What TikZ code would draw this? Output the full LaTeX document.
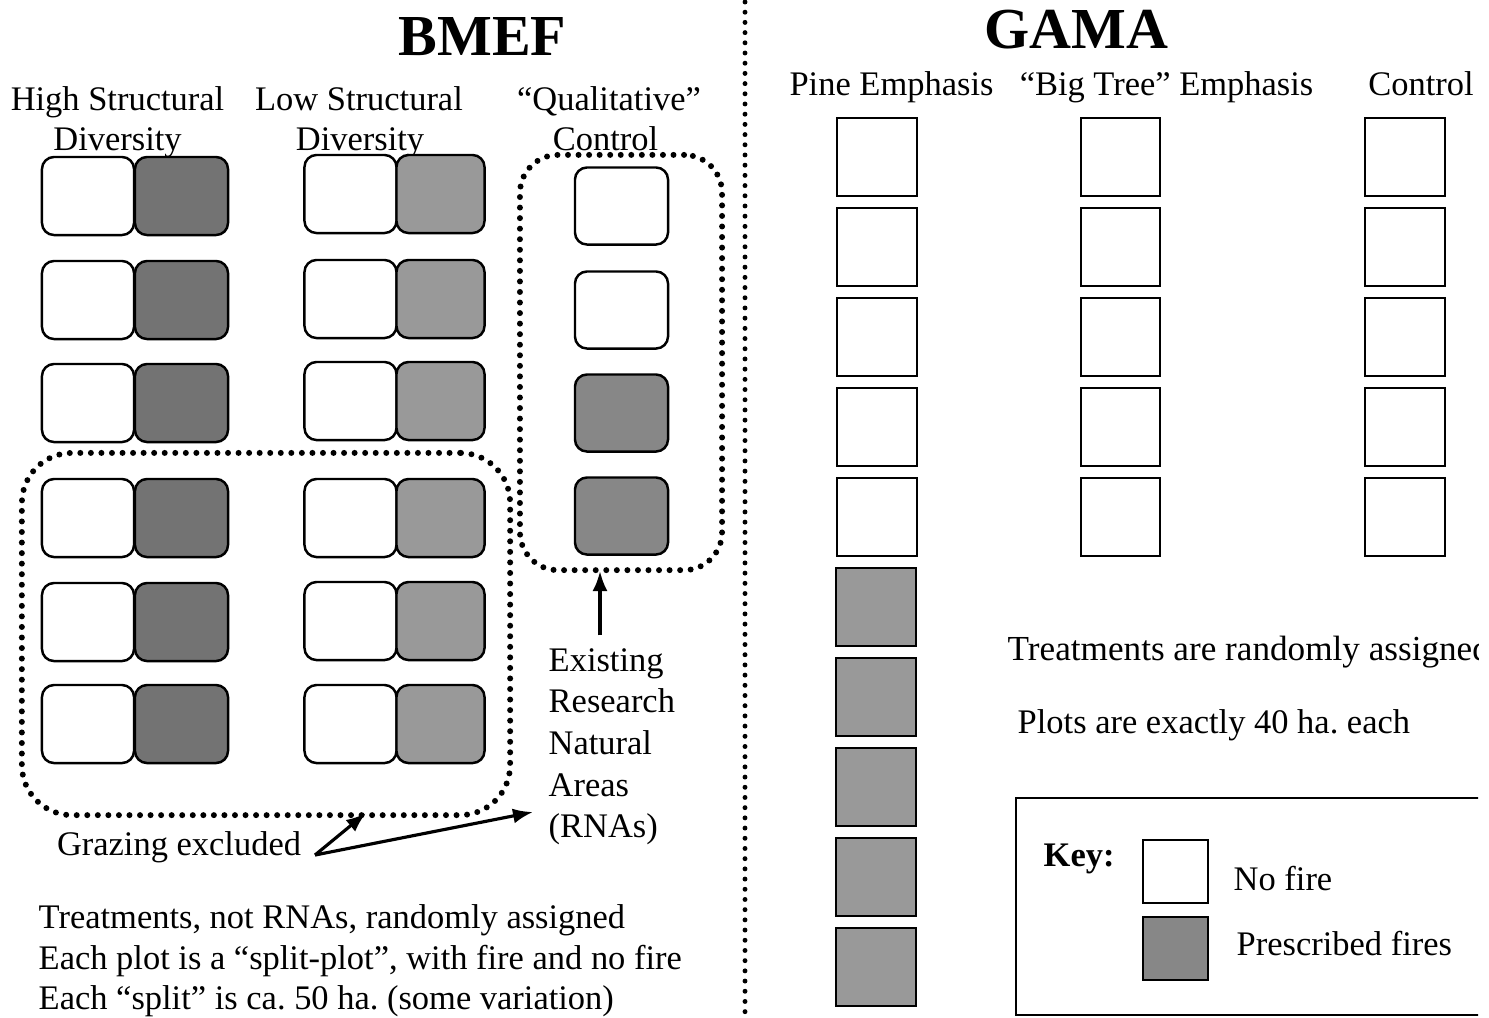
\documentclass[tikz,border=0pt]{standalone}
\usepackage{fontspec}
\setmainfont{Liberation Serif}
\usetikzlibrary{arrows.meta}
\frenchspacing
\tikzset{
  txt/.style={font=\fontsize{9.8pt}{11.8pt}\selectfont, inner sep=0pt},
  ttl/.style={font=\fontsize{16.5pt}{18pt}\selectfont\bfseries, inner sep=0pt},
  plotbox/.style={draw, line width=0.7pt, rounded corners=0.12cm, minimum width=0.92cm, minimum height=0.78cm, inner sep=0pt},
  nofire/.style={plotbox, fill=white},
  fireH/.style={plotbox, fill=black!55},
  fireL/.style={plotbox, fill=black!40, minimum width=0.88cm},
  fireC/.style={plotbox, fill=black!47},
  sqbox/.style={draw, line width=0.7pt, minimum width=0.8cm, minimum height=0.78cm, inner sep=0pt, fill=white},
  sqfire/.style={sqbox, fill=black!40},
  dotframe/.style={draw, line width=1.7pt, dash pattern=on 0pt off 3pt, line cap=round, inner sep=0pt},
  divider/.style={line width=1.4pt, dash pattern=on 0pt off 2.9pt, line cap=round},
  arr/.style={-{Latex[length=0.2cm,width=0.15cm]}, line width=0.9pt},
}
\begin{document}
\begin{tikzpicture}[x=0.01cm, y=-0.01cm]
\useasboundingbox (0,0) rectangle (1489,1017);
\begin{scope}
\clip (0,0) rectangle (1478,1017);

% ---------- BMEF ----------
\node[ttl, anchor=base] (bmef) at (482.5,55) {BMEF};
\node[txt, anchor=base] (h1a) at (117.5,110) {High Structural};
\node[txt, anchor=base] (h1b) at (117.5,150) {Diversity};
\node[txt, anchor=base] (h2a) at (359,110) {Low Structural};
\node[txt, anchor=base] (h2b) at (360,150) {Diversity};
\node[txt, anchor=base] (h3a) at (609,110) {“Qualitative”};
\node[txt, anchor=base] (h3b) at (605.5,150) {Control};

\foreach \y [count=\i] in {196,300,403,518,622,724} {
  \node[nofire] (hw\i) at (88,\y) {};
  \node[fireH, minimum width=0.93cm] (hg\i) at (181.5,\y) {};
}
\foreach \y [count=\i] in {194,299,401,518,621,724} {
  \node[nofire] (lw\i) at (350.5,\y) {};
  \node[fireL] (lg\i) at (440.5,\y) {};
}
\foreach \y/\s [count=\i] in {206/nofire,310/nofire,413/fireC,516/fireC} {
  \node[\s, minimum width=0.93cm, minimum height=0.77cm] (c\i) at (621.5,\y) {};
}

\node[dotframe, rounded corners=0.38cm, minimum width=2.02cm, minimum height=4.15cm] (rnabox) at (621,362.5) {};
\node[dotframe, rounded corners=0.5cm, minimum width=4.88cm, minimum height=3.62cm] (grazebox) at (266,634) {};

\node[txt, anchor=base west] (e1) at (548,671) {Existing};
\node[txt, anchor=base west] (e2) at (548,712) {Research};
\node[txt, anchor=base west] (e3) at (548,754) {Natural};
\node[txt, anchor=base west] (e4) at (548,796) {Areas};
\node[txt, anchor=base west] (e5) at (548,837) {(RNAs)};

\coordinate (rnatip) at (600,571);
\draw[arr] ([yshift=0.12cm]e1.north -| rnatip) -- (rnatip);

\node[txt, anchor=base] (graz) at (179,855) {Grazing excluded};
\coordinate (gtail) at (315,855);
\coordinate (gtip1) at (366,813);
\coordinate (gtip2) at (533,812);
\draw[arr] (gtail) -- (gtip1);
\draw[arr] (gtail) -- (gtip2);

\node[txt, anchor=base west] (b1) at (38,928) {Treatments, not RNAs, randomly assigned};
\node[txt, anchor=base west] (b2) at (38,969) {Each plot is a “split-plot”, with fire and no fire};
\node[txt, anchor=base west] (b3) at (38,1009) {Each “split” is ca. 50 ha. (some variation)};

% ---------- divider ----------
\coordinate (dtop) at (745,2);
\coordinate (dbot) at (745,1017);
\draw[divider] (dtop) -- (dbot);

% ---------- GAMA ----------
\node[ttl, anchor=base] (gama) at (1076.5,48) {GAMA};
\node[txt, anchor=base] (g1) at (891.5,95) {Pine Emphasis};
\node[txt, anchor=base] (g2) at (1166.5,95) {“Big Tree” Emphasis};
\node[txt, anchor=base] (g3) at (1421,95) {Control};

\foreach \y [count=\i] in {157,247,337,427,517} {
  \node[sqbox] (p\i) at (877,\y) {};
  \node[sqbox, minimum width=0.79cm] (t\i) at (1120.5,\y) {};
  \node[sqbox] (k\i) at (1405,\y) {};
}
\foreach \y [count=\i from 6] in {607,697,787,877,967} {
  \node[sqfire] (p\i) at (876,\y) {};
}

\node[txt, font=\fontsize{10pt}{12pt}\selectfont, anchor=base west] (r1) at (1007,660) {Treatments are randomly assigned};
\node[txt, anchor=base west] (r2) at (1017,733) {Plots are exactly 40 ha. each};

\draw[line width=0.7pt] (1016,798) rectangle (1560,1015);
\node[txt, font=\fontsize{9.8pt}{11.8pt}\selectfont\bfseries, anchor=base west] (key) at (1043,866) {Key:};
\node[sqbox, minimum width=0.65cm, minimum height=0.63cm] (kw) at (1175.5,871.5) {};
\node[sqfire, fill=black!47, minimum width=0.65cm, minimum height=0.63cm] (kg) at (1175.5,948.5) {};
\node[txt, anchor=base west] (knf) at (1233,890) {No fire};
\node[txt, anchor=base west] (kpf) at (1236,955) {Prescribed fires};
\end{scope}
\end{tikzpicture}
\end{document}
